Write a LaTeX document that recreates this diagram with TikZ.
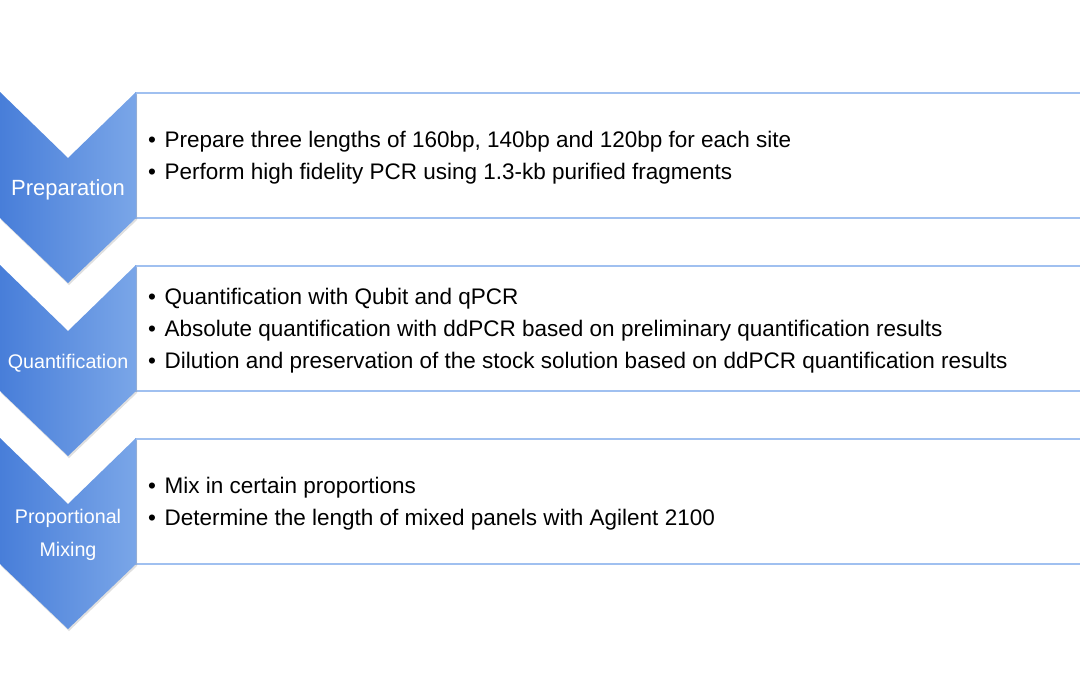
\documentclass[tikz,border=0pt]{standalone}
\usepackage{fontspec}
\setmainfont{Liberation Sans}
\usetikzlibrary{shadows}
\definecolor{chevL}{RGB}{72,126,217}
\definecolor{chevR}{RGB}{122,166,232}
\definecolor{boxline}{RGB}{160,192,240}
\begin{document}
\begin{tikzpicture}[x=1pt,y=-1pt,
  box/.style={draw=boxline, line width=1.5pt, fill=white, rectangle, anchor=north west,
    minimum width=960pt, minimum height=125pt, inner sep=0pt},
  chev/.style={left color=chevL, right color=chevR,
    drop shadow={shadow xshift=1pt,shadow yshift=-2pt,opacity=0.25}},
  lbl/.style={text=white, align=center, inner sep=0pt},
  items/.style={anchor=west, align=left, font=\fontsize{22.5}{32}\selectfont, inner sep=0pt},
  chevpic/.pic={\path[chev] (0,0) -- (68,66) -- (136,0) -- (136,126) -- (68,191) -- (0,126) -- cycle;}
]
\useasboundingbox (0,0) rectangle (1080,675);
\clip (0,0) rectangle (1080,675);

% boxes
\node[box] (b1) at (135,92) {};
\node[box] (b2) at (135,265) {};
\node[box] (b3) at (135,438) {};

% chevrons
\pic at (0,92) {chevpic};
\pic at (0,265) {chevpic};
\pic at (0,438) {chevpic};

% chevron labels
\node[lbl, font=\fontsize{22}{30}\selectfont] (l1) at (68,190) {Preparation};
\node[lbl, font=\fontsize{19.7}{33}\selectfont] (l2) at (68,363) {Quantification};
\node[lbl, font=\fontsize{19.7}{33}\selectfont] (l3) at (68,535) {Proportional\\Mixing};

% items
\node[items] (t1) at (148,158) {•\hspace{8.5pt}Prepare three lengths of 160bp, 140bp and 120bp for each site\\
•\hspace{8.5pt}Perform high fidelity PCR using 1.3-kb purified fragments};
\node[items] (t2) at (148,330.5) {•\hspace{8.5pt}Quantification with Qubit and qPCR\\
•\hspace{8.5pt}Absolute quantification with ddPCR based on preliminary quantification results\\
•\hspace{8.5pt}Dilution and preservation of the stock solution based on ddPCR quantification results};
\node[items] (t3) at (148,503.5) {•\hspace{8.5pt}Mix in certain proportions\\
•\hspace{8.5pt}Determine the length of mixed panels with Agilent 2100};
\end{tikzpicture}
\end{document}
